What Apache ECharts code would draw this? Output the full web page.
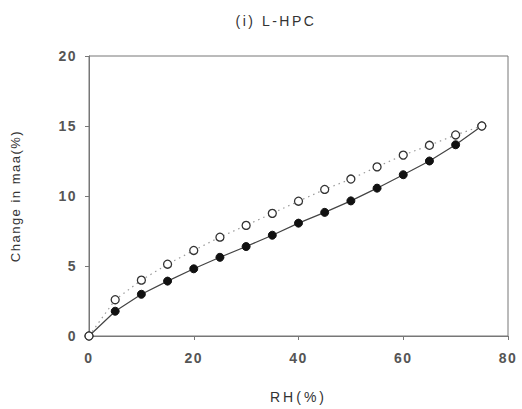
<!DOCTYPE html>
<html>
<head>
<meta charset="utf-8">
<script src="https://cdn.jsdelivr.net/npm/echarts@6/dist/echarts.min.js"></script>
<style>
  html, body { margin: 0; padding: 0; background: #fff; }
  #chart { width: 522px; height: 409px; }
</style>
</head>
<body>
<div id="chart"></div>
<script>
// Relative humidity steps (%)
const rh = [0, 5, 10, 15, 20, 25, 30, 35, 40, 45, 50, 55, 60, 65, 70, 75];
// Change in maa (%) – filled markers, solid line
const solidSeries = [0, 1.77, 2.98, 3.92, 4.80, 5.62, 6.39, 7.20, 8.06, 8.83, 9.65, 10.56, 11.52, 12.50, 13.66, 15.0];
// Change in maa (%) – open markers, dotted line
const openSeries = [0, 2.59, 3.99, 5.13, 6.11, 7.06, 7.90, 8.76, 9.63, 10.47, 11.21, 12.08, 12.92, 13.62, 14.36, 15.0];
const xTicks = [0, 20, 40, 60, 80];
const yTicks = [0, 5, 10, 15, 20];

const titleText = '(i) L-HPC';
const xName = 'RH(%)';
const yName = 'Change in maa(%)';

const pairs = (ys) => rh.map((x, i) => [x, ys[i]]);
const font = '"Liberation Sans", Arial, sans-serif';

const chart = echarts.init(document.getElementById('chart'), null, { renderer: 'svg' });
chart.setOption({
  animation: false,
  backgroundColor: '#ffffff',
  title: {
    text: titleText,
    left: 271, top: 9, textAlign: 'center',
    textStyle: { fontFamily: font, fontSize: 14, fontWeight: 'normal', color: '#333' }
  },
  grid: { left: 89, top: 56, right: 14, bottom: 67, show: true, borderColor: '#777', borderWidth: 1 },
  xAxis: {
    type: 'value', min: xTicks[0], max: xTicks[xTicks.length - 1], interval: 20,
    name: xName, nameLocation: 'middle', nameGap: 54,
    nameTextStyle: { fontFamily: font, fontSize: 14, color: '#333' },
    axisLine: { lineStyle: { color: '#777', width: 1 } },
    axisTick: { show: true, length: 4, inside: false, lineStyle: { color: '#777' } },
    axisLabel: { fontFamily: font, fontSize: 14, fontWeight: 'bold', color: '#555', margin: 15 },
    splitLine: { show: false }
  },
  yAxis: {
    type: 'value', min: yTicks[0], max: yTicks[yTicks.length - 1], interval: 5,
    name: yName, nameLocation: 'middle', nameGap: 67, nameRotate: 90,
    nameTextStyle: { fontFamily: font, fontSize: 13, color: '#333' },
    axisLine: { show: true, lineStyle: { color: '#777', width: 1 } },
    axisTick: { show: true, length: 4, inside: false, lineStyle: { color: '#777' } },
    axisLabel: { fontFamily: font, fontSize: 14, fontWeight: 'bold', color: '#555', margin: 12 },
    splitLine: { show: false }
  },
  series: [
    {
      name: 'solid', type: 'line', data: pairs(solidSeries), z: 2,
      symbol: 'circle', symbolSize: 8,
      lineStyle: { color: '#444', width: 1.2 },
      itemStyle: { color: '#111', borderColor: '#111', borderWidth: 1 }
    },
    {
      name: 'open', type: 'line', data: pairs(openSeries), z: 3,
      symbol: 'circle', symbolSize: 8,
      lineStyle: { color: '#999', width: 1.2, type: [1.5, 4] },
      itemStyle: { color: '#fff', borderColor: '#333', borderWidth: 1.3 }
    }
  ]
});

// Widen the lettering of the typeset labels
const spacing = { [titleText]: 2.5, [xName]: 3, [yName]: 1.5 };
document.querySelectorAll('#chart svg text').forEach((t) => {
  const s = spacing[t.textContent] !== undefined ? spacing[t.textContent] : 1.5;
  t.style.letterSpacing = s + 'px';
});
</script>
</body>
</html>
